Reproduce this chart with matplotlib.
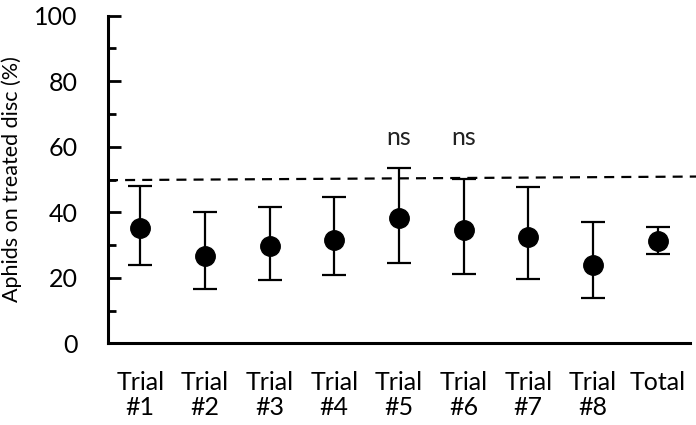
import matplotlib.pyplot as plt
import numpy as np

plt.rcParams['font.family'] = ['Lato', 'DejaVu Sans']

labels = ["Trial\n#1", "Trial\n#2", "Trial\n#3", "Trial\n#4", "Trial\n#5",
          "Trial\n#6", "Trial\n#7", "Trial\n#8", "Total"]
means = np.array([35.3, 26.7, 29.7, 31.5, 38.2, 34.6, 32.4, 23.9, 31.3])
upper = np.array([48.1, 40.0, 41.5, 44.6, 53.6, 50.2, 47.8, 37.1, 35.6])
lower = np.array([23.9, 16.6, 19.3, 20.8, 24.6, 21.2, 19.5, 13.9, 27.3])
ns_marks = ["", "", "", "", "ns", "ns", "", "", ""]
ns_y = 62.7
ref_line = [49.8, 50.9]

fig = plt.figure(figsize=(6.96, 4.25), dpi=100)
ax = fig.add_axes([108/696, (425-343.3)/425, (690-108)/696, (343.3-15.7)/425])

x = np.arange(len(labels))
yerr = np.vstack([means - lower, upper - means])

# 50% reference line, runs past the axis to the edge
ax.plot([-0.5, 8.6], ref_line, color='black', lw=1.6, ls=(0, (4.5, 3.2)),
        clip_on=False, zorder=1)

ax.errorbar(x, means, yerr=yerr, fmt='o', color='black', ms=14,
            elinewidth=1.6, capsize=8.5, capthick=1.6, zorder=3)

for xi, t in zip(x, ns_marks):
    if t:
        ax.text(xi, ns_y, t, ha='center', va='center', fontsize=18, color='#222222')

ax.set_xlim(-0.5, 8.5)
ax.set_ylim(0, 100)
ax.set_yticks(np.arange(0, 101, 20))
ax.set_yticks(np.arange(10, 100, 20), minor=True)
ax.set_xticks(x)
ax.set_xticklabels(labels, fontsize=18, linespacing=1.1)
ax.tick_params(axis='x', length=0, pad=20)
ax.tick_params(axis='y', which='major', direction='in', length=9, width=2, labelsize=18, pad=22)
ax.tick_params(axis='y', which='minor', direction='in', length=6, width=2)

for s in ['top', 'right']:
    ax.spines[s].set_visible(False)
for s in ['left', 'bottom']:
    ax.spines[s].set_linewidth(2.2)

ax.set_ylabel("Aphids on treated disc (%)", fontsize=15.5)
ax.yaxis.set_label_coords(-0.148, 0.5)

fig.savefig("out.png", dpi=100)
